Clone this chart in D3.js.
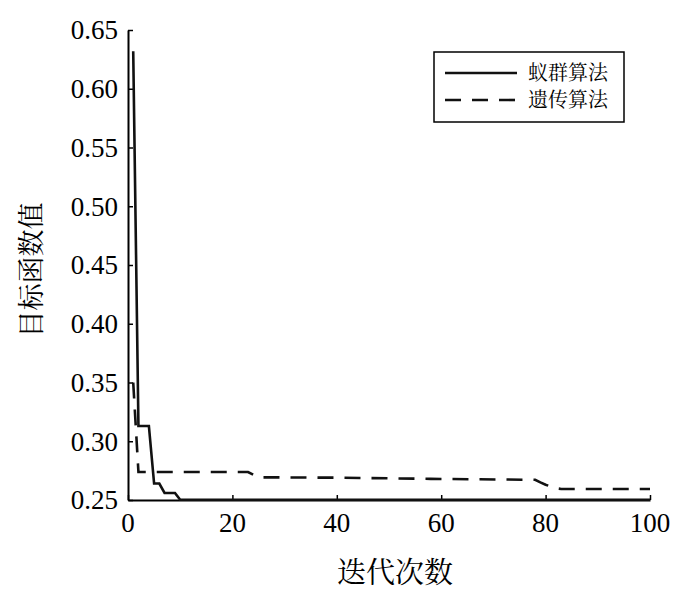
<!DOCTYPE html>
<html><head><meta charset="utf-8">
<script src="https://cdn.jsdelivr.net/npm/d3@7"></script>
<style>body{margin:0;background:#fff}</style>
</head><body>
<svg id="c" width="700" height="599"></svg>
<script>
const seriesNames = ["蚁群算法", "遗传算法"];
const xTicks = [0, 20, 40, 60, 80, 100];
const yTicks = [0.25, 0.30, 0.35, 0.40, 0.45, 0.50, 0.55, 0.60, 0.65];
const xLabel = "迭代次数";
const yLabel = "目标函数值";
// ACO (solid)
const acoIter = [1, 2, 3, 4, 5, 6, 7, 8, 9, 10, 100];
const acoVal  = [0.632, 0.313, 0.313, 0.313, 0.264, 0.264, 0.256, 0.256, 0.256, 0.2502, 0.2502];
// GA (dashed)
const gaIter = [1, 2, 23, 25, 40, 58, 78, 79, 80, 81, 82, 83, 100];
const gaVal  = [0.350, 0.2738, 0.2738, 0.2693, 0.2690, 0.2680, 0.2672, 0.2650, 0.2630, 0.2615, 0.2600, 0.2594, 0.2594];

const svg = d3.select("#c");
const x = d3.scaleLinear().domain([0, 100]).range([128, 650]);
const y = d3.scaleLinear().domain([0.25, 0.65]).range([500, 30]);
const numFont = '"Liberation Serif"';
const cjkFont = '"Noto Serif CJK SC"';

// axes (lines/ticks from d3 axis, labels drawn as own texts)
const xAxis = d3.axisBottom(x).tickValues(xTicks).tickSizeInner(-5).tickSizeOuter(0).tickFormat("");
const gx = svg.append("g").attr("transform", "translate(0,500)").call(xAxis);
const yAxis = d3.axisLeft(y).tickValues(yTicks).tickSizeInner(-5).tickSizeOuter(0).tickFormat("");
const gy = svg.append("g").attr("transform", "translate(128,0)").call(yAxis);
[gx, gy].forEach(g => {
  g.select(".domain").attr("stroke", "#000").attr("stroke-width", 2);
  g.selectAll(".tick line").attr("stroke", "#000").attr("stroke-width", 1.5);
});
const fx = d3.format("d"), fy = d3.format(".2f");
svg.append("g").selectAll("text").data(xTicks).join("text")
  .attr("x", d => x(d)).attr("y", 523).attr("dy", "0.35em").attr("text-anchor", "middle")
  .style("font-family", numFont).style("font-size", "27px").attr("fill", "#000").text(d => fx(d));
svg.append("g").selectAll("text").data(yTicks).join("text")
  .attr("x", 118).attr("y", d => y(d)).attr("dy", "0.35em").attr("text-anchor", "end")
  .style("font-family", numFont).style("font-size", "27px").attr("fill", "#000").text(d => fy(d));

// lines
const line = d3.line().x(d => x(d[0])).y(d => y(d[1]));
const aco = acoIter.map((d, i) => [d, acoVal[i]]);
const ga = gaIter.map((d, i) => [d, gaVal[i]]);
svg.append("path").datum(ga).attr("d", line).attr("fill", "none").attr("stroke", "#111")
  .attr("stroke-width", 2.6).attr("stroke-dasharray", "16,11");
svg.append("path").datum(aco).attr("d", line).attr("fill", "none").attr("stroke", "#111")
  .attr("stroke-width", 2.6);

// legend
const lg = svg.append("g");
lg.append("rect").attr("x", 434).attr("y", 52).attr("width", 190).attr("height", 70)
  .attr("fill", "#fff").attr("stroke", "#000").attr("stroke-width", 1.5);
const dashes = [null, "16,11"];
[73, 100].forEach((ly, i) => {
  lg.append("line").attr("x1", 445).attr("x2", 517).attr("y1", ly).attr("y2", ly)
    .attr("stroke", "#111").attr("stroke-width", 2.6).attr("stroke-dasharray", dashes[i]);
  lg.append("text").attr("x", 528).attr("y", ly).attr("dy", "0.36em").text(seriesNames[i])
    .style("font-family", cjkFont).style("font-size", "20px").attr("fill", "#000");
});

// axis labels
svg.append("text").attr("x", 395).attr("y", 573).attr("dy", "0.36em").attr("text-anchor", "middle")
  .text(xLabel).style("font-family", cjkFont).style("font-size", "29px").attr("fill", "#000");
svg.append("text").attr("transform", "translate(31,270) rotate(-90)").attr("dy", "0.36em").attr("text-anchor", "middle")
  .text(yLabel).style("font-family", cjkFont).style("font-size", "27px").attr("fill", "#000");
</script>
</body></html>
